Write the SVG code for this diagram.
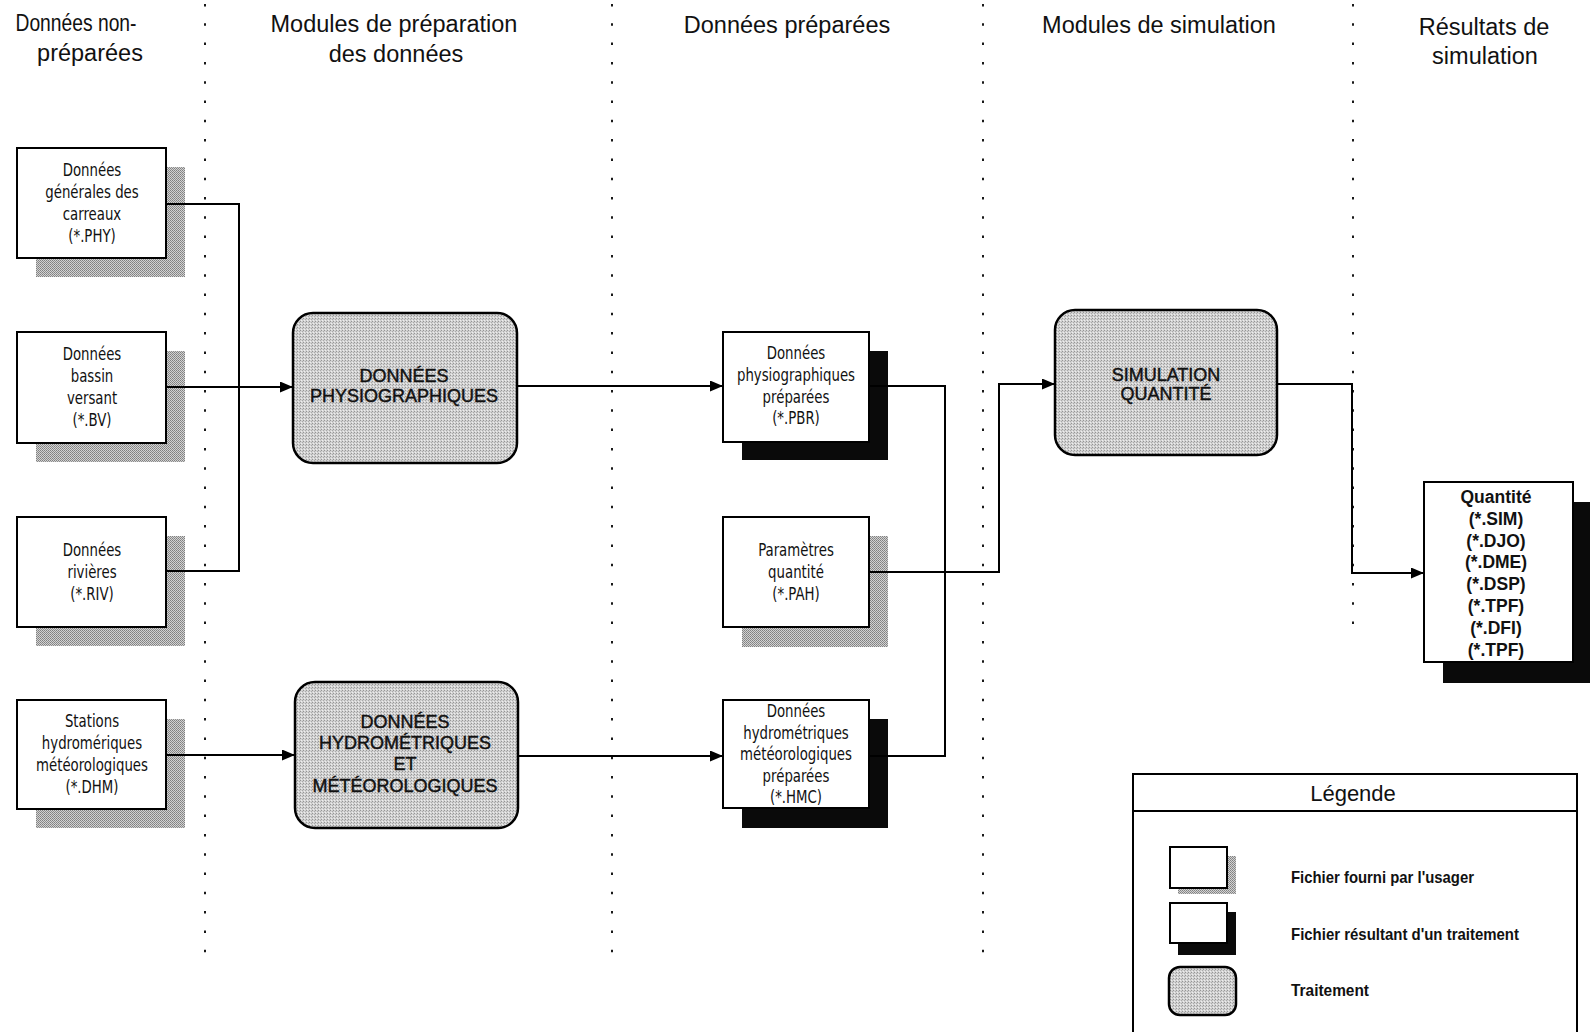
<svg xmlns="http://www.w3.org/2000/svg" width="1590" height="1032" viewBox="0 0 1590 1032">
  <defs>
    <!-- halftone for user-file shadows -->
    <pattern id="dither" width="2" height="2" patternUnits="userSpaceOnUse">
      <rect width="2" height="2" fill="#d2d2d2"/>
      <rect width="1" height="1" fill="#808080"/>
      <rect x="1" y="1" width="1" height="1" fill="#8e8e8e"/>
    </pattern>
    <!-- lighter grain for processing modules -->
    <pattern id="grain" width="3" height="3" patternUnits="userSpaceOnUse">
      <rect width="3" height="3" fill="#d2d2d2"/>
      <rect x="0" y="0" width="1" height="1" fill="#959595"/>
      <rect x="2" y="1" width="1" height="1" fill="#aaaaaa"/>
      <rect x="1" y="2" width="1" height="1" fill="#eeeeee"/>
    </pattern>
    <marker id="arrow" markerUnits="userSpaceOnUse" markerWidth="13" markerHeight="11" refX="13" refY="5.5" orient="auto">
      <path d="M0,0 L13,5.5 L0,11 z" fill="#000"/>
    </marker>
    <style>
      .hdr { font-family: "Liberation Sans", Arial, sans-serif; font-size: 23.5px; fill: #111; text-anchor: middle; }
      .box { fill: #fff; stroke: #000; stroke-width: 2; }
      .sh-user { fill: url(#dither); }
      .sh-out { fill: #0a0a0a; }
      .proc { fill: url(#grain); stroke: #000; stroke-width: 2.5; }
      .ftxt { font-family: "DejaVu Sans Condensed", "DejaVu Sans", sans-serif; font-size: 17px; fill: #111; text-anchor: middle; }
      .ptxt { font-family: "Liberation Sans", Arial, sans-serif; font-size: 18px; fill: #111; stroke: #111; stroke-width: 0.45; text-anchor: middle; }
      .qtxt { font-family: "Liberation Sans", Arial, sans-serif; font-size: 17.5px; font-weight: bold; fill: #111; text-anchor: middle; }
      .ltxt { font-family: "Liberation Sans", Arial, sans-serif; font-size: 17px; font-weight: bold; fill: #111; }
      .sep { stroke: #000; stroke-width: 1.8; stroke-dasharray: 2.5 16.8; fill: none; }
      .conn { stroke: #000; stroke-width: 2; fill: none; }
    </style>
  </defs>

  <rect width="1590" height="1032" fill="#fff"/>

  <!-- column separators -->
  <g id="separators">
    <line class="sep" x1="205" y1="4" x2="205" y2="955"/>
    <line class="sep" x1="612" y1="4" x2="612" y2="955"/>
    <line class="sep" x1="983" y1="4" x2="983" y2="955"/>
    <line class="sep" x1="1353" y1="4" x2="1353" y2="630"/>
  </g>

  <!-- column headings -->
  <g id="headers">
    <text class="hdr" x="76" y="31" textLength="121" lengthAdjust="spacingAndGlyphs">Données non-</text>
    <text class="hdr" x="90" y="61">préparées</text>
    <text class="hdr" x="394" y="32">Modules de préparation</text>
    <text class="hdr" x="396" y="62">des données</text>
    <text class="hdr" x="787" y="33">Données préparées</text>
    <text class="hdr" x="1159" y="33">Modules de simulation</text>
    <text class="hdr" x="1484" y="35">Résultats de</text>
    <text class="hdr" x="1485" y="64">simulation</text>
  </g>

  <!-- user-supplied input files -->
  <g id="phy">
    <rect class="sh-user" x="36" y="167" width="149" height="110"/>
    <rect class="box" x="17" y="148" width="149" height="110"/>
    <text class="ftxt" y="176" transform="matrix(0.87 0 0 1 92 0)"><tspan x="0" dy="0">Données</tspan><tspan x="0" dy="22">générales des</tspan><tspan x="0" dy="22">carreaux</tspan><tspan x="0" dy="22">(*.PHY)</tspan></text>
  </g>
  <g id="bv">
    <rect class="sh-user" x="36" y="351" width="149" height="111"/>
    <rect class="box" x="17" y="332" width="149" height="111"/>
    <text class="ftxt" y="360" transform="matrix(0.87 0 0 1 92 0)"><tspan x="0" dy="0">Données</tspan><tspan x="0" dy="22">bassin</tspan><tspan x="0" dy="22">versant</tspan><tspan x="0" dy="22">(*.BV)</tspan></text>
  </g>
  <g id="riv">
    <rect class="sh-user" x="36" y="536" width="149" height="110"/>
    <rect class="box" x="17" y="517" width="149" height="110"/>
    <text class="ftxt" y="556" transform="matrix(0.87 0 0 1 92 0)"><tspan x="0" dy="0">Données</tspan><tspan x="0" dy="22">rivières</tspan><tspan x="0" dy="22">(*.RIV)</tspan></text>
  </g>
  <g id="dhm">
    <rect class="sh-user" x="36" y="719" width="149" height="109"/>
    <rect class="box" x="17" y="700" width="149" height="109"/>
    <text class="ftxt" y="727" transform="matrix(0.87 0 0 1 92 0)"><tspan x="0" dy="0">Stations</tspan><tspan x="0" dy="22">hydromériques</tspan><tspan x="0" dy="22">météorologiques</tspan><tspan x="0" dy="22">(*.DHM)</tspan></text>
  </g>

  <!-- preparation modules -->
  <g id="prep-physio">
    <rect class="proc" x="293" y="313" width="224" height="150" rx="20"/>
    <text class="ptxt" y="382"><tspan x="404" dy="0">DONNÉES</tspan><tspan x="404" dy="20">PHYSIOGRAPHIQUES</tspan></text>
  </g>
  <g id="prep-hydro">
    <rect class="proc" x="295" y="682" width="223" height="146" rx="20"/>
    <text class="ptxt" y="728"><tspan x="405" dy="0">DONNÉES</tspan><tspan x="405" dy="20.5">HYDROMÉTRIQUES</tspan><tspan x="405" dy="21.5">ET</tspan><tspan x="405" dy="22">MÉTÉOROLOGIQUES</tspan></text>
  </g>

  <!-- prepared files -->
  <g id="pbr">
    <rect class="sh-out" x="742" y="351" width="146" height="109"/>
    <rect class="box" x="723" y="332" width="146" height="110"/>
    <text class="ftxt" y="359" transform="matrix(0.87 0 0 1 796 0)"><tspan x="0" dy="0">Données</tspan><tspan x="0" dy="22">physiographiques</tspan><tspan x="0" dy="22">préparées</tspan><tspan x="0" dy="21">(*.PBR)</tspan></text>
  </g>
  <g id="pah">
    <rect class="sh-user" x="742" y="536" width="146" height="111"/>
    <rect class="box" x="723" y="517" width="146" height="110"/>
    <text class="ftxt" y="556" transform="matrix(0.87 0 0 1 796 0)"><tspan x="0" dy="0">Paramètres</tspan><tspan x="0" dy="22">quantité</tspan><tspan x="0" dy="22">(*.PAH)</tspan></text>
  </g>
  <g id="hmc">
    <rect class="sh-out" x="742" y="719" width="146" height="109"/>
    <rect class="box" x="723" y="700" width="146" height="108"/>
    <text class="ftxt" y="717" transform="matrix(0.87 0 0 1 796 0)"><tspan x="0" dy="0">Données</tspan><tspan x="0" dy="21.6">hydrométriques</tspan><tspan x="0" dy="21.6">météorologiques</tspan><tspan x="0" dy="21.6">préparées</tspan><tspan x="0" dy="21.6">(*.HMC)</tspan></text>
  </g>

  <!-- simulation module -->
  <g id="sim">
    <rect class="proc" x="1055" y="310" width="222" height="145" rx="20"/>
    <text class="ptxt" y="381"><tspan x="1166" dy="0">SIMULATION</tspan><tspan x="1166" dy="18.5">QUANTITÉ</tspan></text>
  </g>

  <!-- simulation output -->
  <g id="results">
    <rect class="sh-out" x="1443" y="502" width="160" height="181"/>
    <rect class="box" x="1424" y="482" width="149" height="180"/>
    <text class="qtxt" y="503"><tspan x="1496" dy="0">Quantité</tspan><tspan x="1496" dy="21.8">(*.SIM)</tspan><tspan x="1496" dy="21.8">(*.DJO)</tspan><tspan x="1496" dy="21.8">(*.DME)</tspan><tspan x="1496" dy="21.8">(*.DSP)</tspan><tspan x="1496" dy="21.8">(*.TPF)</tspan><tspan x="1496" dy="21.8">(*.DFI)</tspan><tspan x="1496" dy="21.8">(*.TPF)</tspan></text>
  </g>

  <!-- data flow -->
  <g id="connectors">
    <polyline class="conn" points="166,204 239,204 239,571 166,571"/>
    <line class="conn" x1="166" y1="387" x2="293" y2="387" marker-end="url(#arrow)"/>
    <line class="conn" x1="166" y1="755" x2="295" y2="755" marker-end="url(#arrow)"/>
    <line class="conn" x1="517" y1="386" x2="723" y2="386" marker-end="url(#arrow)"/>
    <line class="conn" x1="518" y1="756" x2="723" y2="756" marker-end="url(#arrow)"/>
    <polyline class="conn" points="869,386 945,386 945,756 869,756"/>
    <polyline class="conn" points="869,572 999,572 999,384 1055,384" marker-end="url(#arrow)"/>
    <polyline class="conn" points="1277,384 1352,384 1352,573 1424,573" marker-end="url(#arrow)"/>
  </g>

  <!-- legend -->
  <g id="legend">
    <rect x="1133" y="774" width="444" height="270" fill="#fff" stroke="#000" stroke-width="2"/>
    <line x1="1133" y1="811" x2="1577" y2="811" stroke="#000" stroke-width="2"/>
    <text x="1353" y="801" font-family="Liberation Sans, Arial, sans-serif" font-size="22" text-anchor="middle" fill="#111">Légende</text>
    <rect class="sh-user" x="1178" y="856" width="58" height="38"/>
    <rect class="box" x="1170" y="847" width="57" height="41"/>
    <text class="ltxt" x="1291" y="883" textLength="183" lengthAdjust="spacingAndGlyphs">Fichier fourni par l'usager</text>
    <rect class="sh-out" x="1178" y="912" width="58" height="43"/>
    <rect class="box" x="1170" y="903" width="57" height="40"/>
    <text class="ltxt" x="1291" y="940" textLength="228" lengthAdjust="spacingAndGlyphs">Fichier résultant d'un traitement</text>
    <rect class="proc" x="1169" y="967" width="67" height="48" rx="11"/>
    <text class="ltxt" x="1291" y="996" textLength="78" lengthAdjust="spacingAndGlyphs">Traitement</text>
  </g>
</svg>
